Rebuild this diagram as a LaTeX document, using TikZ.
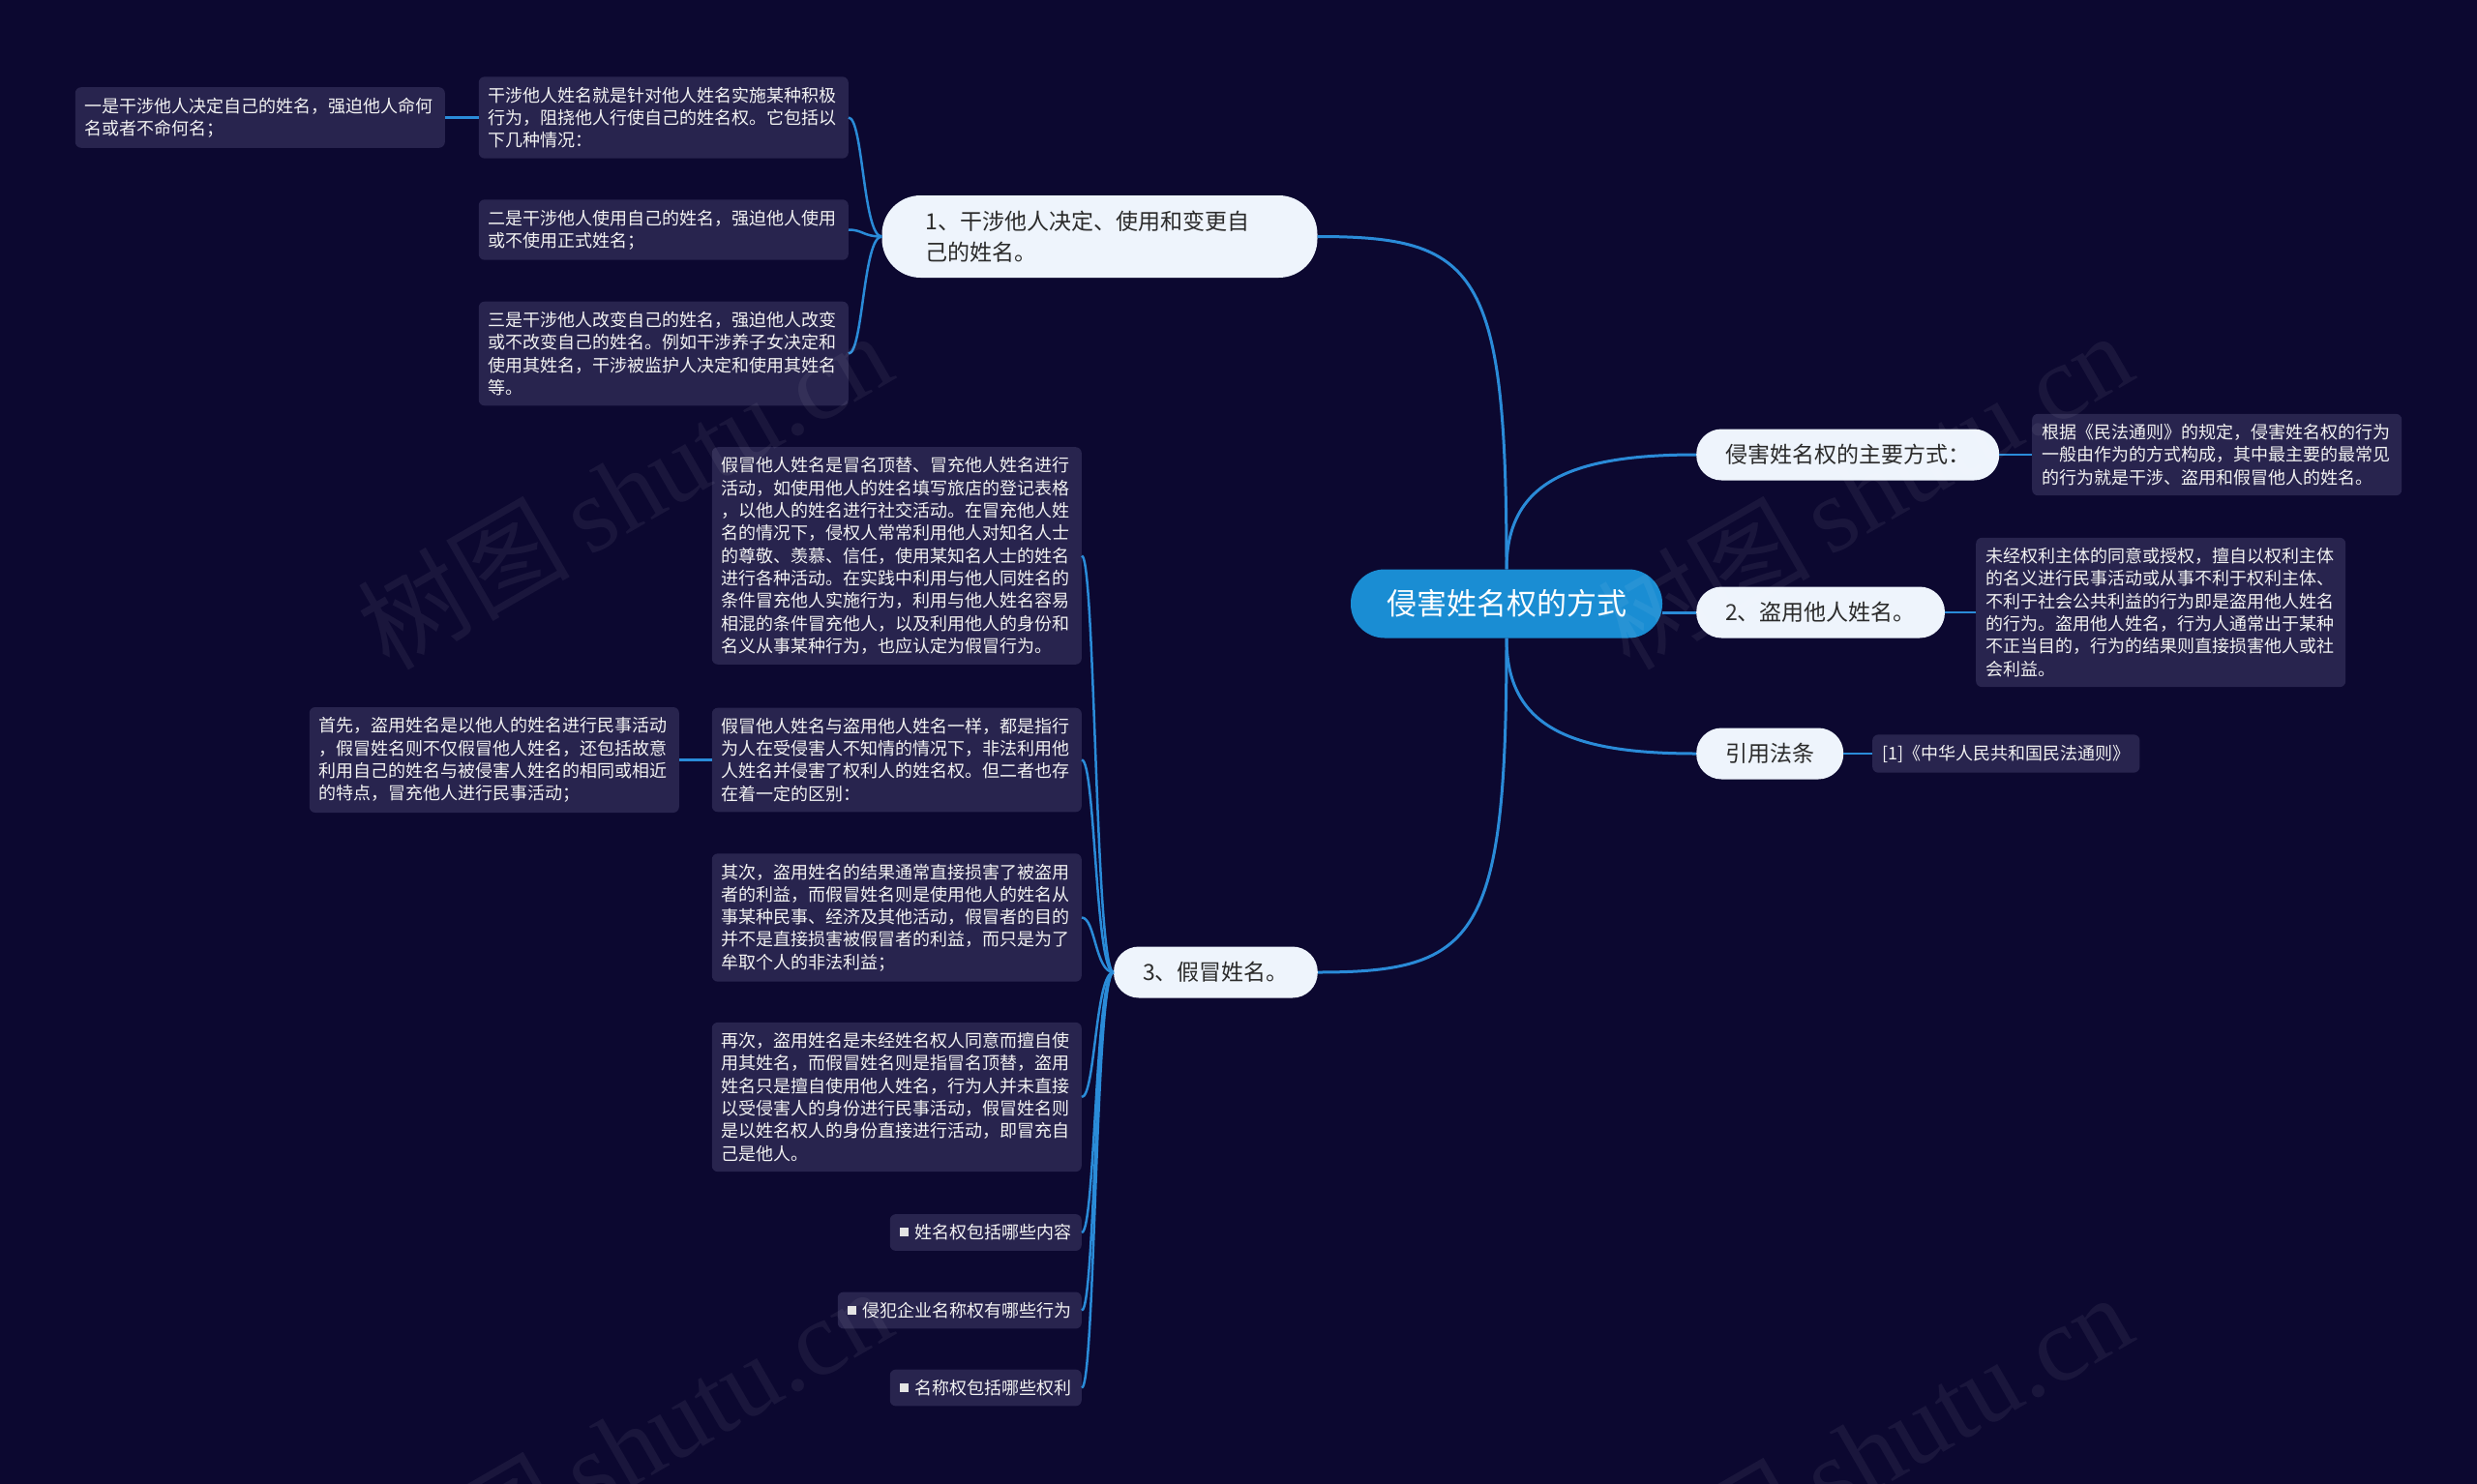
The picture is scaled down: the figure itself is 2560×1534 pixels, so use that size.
\documentclass[tikz,border=0pt]{standalone}
\usepackage{fontspec}
\setmainfont{Noto Sans CJK SC}
\newfontfamily\wmfont{Liberation Serif}
\usetikzlibrary{calc}
\definecolor{bgc}{HTML}{0C0830}
\definecolor{leaffill}{HTML}{28244E}
\definecolor{linec}{HTML}{2A8BD8}
\definecolor{rootfill}{HTML}{1A8DD3}
\definecolor{branchfill}{HTML}{EEF4FC}
\definecolor{branchtext}{HTML}{2B2B2B}
\definecolor{leaftext}{HTML}{F2F2F2}
\definecolor{sqc}{HTML}{E4E4E4}
\newcommand\mysq{{\color{sqc}\rule[2.5pt]{9pt}{9pt}}\hspace{7pt}}
\tikzset{
 leaf/.style={fill=leaffill, rounded corners=6pt, text=leaftext, font=\fontsize{18}{23.3}\selectfont, inner xsep=10pt, inner ysep=10.5pt, align=left, text width=362pt},
 shortleaf/.style={fill=leaffill, rounded corners=6pt, text=leaftext, font=\fontsize{18}{23.3}\selectfont, inner xsep=10pt, inner ysep=10.5pt},
 branch/.style={fill=branchfill, text=branchtext, font=\fontsize{23}{32}\selectfont, rounded corners=26pt, minimum height=53pt, inner xsep=30pt, inner ysep=0pt},
 rootnode/.style={fill=rootfill, text=white, font=\fontsize{31}{36}\selectfont, rounded corners=35pt, minimum height=71pt, inner xsep=37pt},
 conn/.style={draw=linec, line width=3pt},
 lconn/.style={draw=linec, line width=2.5pt},
 wm/.style={text=white, opacity=0.06, rotate=30, font=\fontsize{110}{120}\selectfont},
}
\begin{document}
\begin{tikzpicture}[x=1pt,y=-1pt]
\useasboundingbox (0,0) rectangle (2560,1534);
\fill[bgc] (0,0) rectangle (2560,1534);

% root and branches
\node[rootnode] (root) at (1557,624) {侵害姓名权的方式};
\node[branch, text width=360pt, align=left, inner xsep=45pt, inner ysep=15pt, minimum height=85pt, rounded corners=40pt] (b1) at (1136.5,244.5) {1、干涉他人决定、使用和变更自\\己的姓名。};
\node[branch, anchor=west] (bm) at (1753,470) {侵害姓名权的主要方式：};
\node[branch, anchor=west] (b2) at (1753,633) {2、盗用他人姓名。};
\node[branch, anchor=west] (bc) at (1753,779) {引用法条};
\node[branch, anchor=east] (b3) at (1362,1005) {3、假冒姓名。};

% leaves of branch 1
\node[leaf, anchor=east] (l1a) at (877,121.5) {干涉他人姓名就是针对他人姓名实施某种积极\\行为，阻挠他人行使自己的姓名权。它包括以\\下几种情况：};
\node[leaf, anchor=east] (l1b) at (460,121.5) {一是干涉他人决定自己的姓名，强迫他人命何\\名或者不命何名；};
\node[leaf, anchor=east] (l1c) at (877,237.5) {二是干涉他人使用自己的姓名，强迫他人使用\\或不使用正式姓名；};
\node[leaf, anchor=east] (l1d) at (877,365.5) {三是干涉他人改变自己的姓名，强迫他人改变\\或不改变自己的姓名。例如干涉养子女决定和\\使用其姓名，干涉被监护人决定和使用其姓名\\等。};

% leaves of branch 3
\node[leaf, anchor=east] (l3a) at (1118,574.5) {假冒他人姓名是冒名顶替、冒充他人姓名进行\\活动，如使用他人的姓名填写旅店的登记表格\\，以他人的姓名进行社交活动。在冒充他人姓\\名的情况下，侵权人常常利用他人对知名人士\\的尊敬、羡慕、信任，使用某知名人士的姓名\\进行各种活动。在实践中利用与他人同姓名的\\条件冒充他人实施行为，利用与他人姓名容易\\相混的条件冒充他人，以及利用他人的身份和\\名义从事某种行为，也应认定为假冒行为。};
\node[leaf, anchor=east] (l3b) at (1118,785.5) {假冒他人姓名与盗用他人姓名一样，都是指行\\为人在受侵害人不知情的情况下，非法利用他\\人姓名并侵害了权利人的姓名权。但二者也存\\在着一定的区别：};
\node[leaf, anchor=east] (l3c) at (702,785.5) {首先，盗用姓名是以他人的姓名进行民事活动\\，假冒姓名则不仅假冒他人姓名，还包括故意\\利用自己的姓名与被侵害人姓名的相同或相近\\的特点，冒充他人进行民事活动；};
\node[leaf, anchor=east] (l3d) at (1118,948.5) {其次，盗用姓名的结果通常直接损害了被盗用\\者的利益，而假冒姓名则是使用他人的姓名从\\事某种民事、经济及其他活动，假冒者的目的\\并不是直接损害被假冒者的利益，而只是为了\\牟取个人的非法利益；};
\node[leaf, anchor=east] (l3e) at (1118,1134) {再次，盗用姓名是未经姓名权人同意而擅自使\\用其姓名，而假冒姓名则是指冒名顶替，盗用\\姓名只是擅自使用他人姓名，行为人并未直接\\以受侵害人的身份进行民事活动，假冒姓名则\\是以姓名权人的身份直接进行活动，即冒充自\\己是他人。};
\node[shortleaf, anchor=east] (l3f) at (1118,1274) {\mysq 姓名权包括哪些内容};
\node[shortleaf, anchor=east] (l3g) at (1118,1354.5) {\mysq 侵犯企业名称权有哪些行为};
\node[shortleaf, anchor=east] (l3h) at (1118,1434.5) {\mysq 名称权包括哪些权利};

% right leaves
\node[leaf, anchor=west] (r1) at (2100,470) {根据《民法通则》的规定，侵害姓名权的行为\\一般由作为的方式构成，其中最主要的最常见\\的行为就是干涉、盗用和假冒他人的姓名。};
\node[leaf, anchor=west] (r2) at (2042,633) {未经权利主体的同意或授权，擅自以权利主体\\的名义进行民事活动或从事不利于权利主体、\\不利于社会公共利益的行为即是盗用他人姓名\\的行为。盗用他人姓名，行为人通常出于某种\\不正当目的，行为的结果则直接损害他人或社\\会利益。};
\node[shortleaf, anchor=west] (r3) at (1935,779) {[1]《中华人民共和国民法通则》};

% root connectors
\draw[conn] (root.north) .. controls (1557,278) and (1527,244.5) .. (b1.east);
\draw[conn] (root.north) .. controls (1557,500) and (1620,470) .. (bm.west);
\draw[conn] (root.east |- b2.west) -- (b2.west);
\draw[conn] (root.south) .. controls (1557,750) and (1620,779) .. (bc.west);
\draw[conn] (root.south) .. controls (1557,970) and (1527,1005) .. (b3.east);

% branch 1 connectors
\draw[lconn] (b1.west) .. controls (892,244.5) and (892,121.5) .. (l1a.east);
\draw[lconn] (b1.west) .. controls (892,244.5) and (892,237.5) .. (l1c.east);
\draw[lconn] (b1.west) .. controls (892,244.5) and (892,365.5) .. (l1d.east);
\draw[lconn] (l1a.west) -- (l1b.east);

% branch 3 connectors
\foreach \n/\yy in {l3a/574.5, l3b/785.5, l3d/948.5, l3e/1134, l3f/1274, l3g/1354.5, l3h/1434.5}{
  \draw[lconn] (b3.west) .. controls (1132,1005) and (1132,\yy) .. (\n.east);
}
\draw[lconn] (l3b.west) -- (l3c.east);

% right connectors
\draw[lconn] (bm.east) -- (r1.west);
\draw[lconn] (b2.east) -- (r2.west);
\draw[lconn] (bc.east) -- (r3.west);

% watermarks
\node[wm] (wm1) at (645,506) {树图\,{\wmfont shutu.cn}};
\node[wm] (wm2) at (1927,506) {树图\,{\wmfont shutu.cn}};
\node[wm] (wm3) at (645,1494) {树图\,{\wmfont shutu.cn}};
\node[wm] (wm4) at (1927,1500) {树图\,{\wmfont shutu.cn}};
\end{tikzpicture}
\end{document}
